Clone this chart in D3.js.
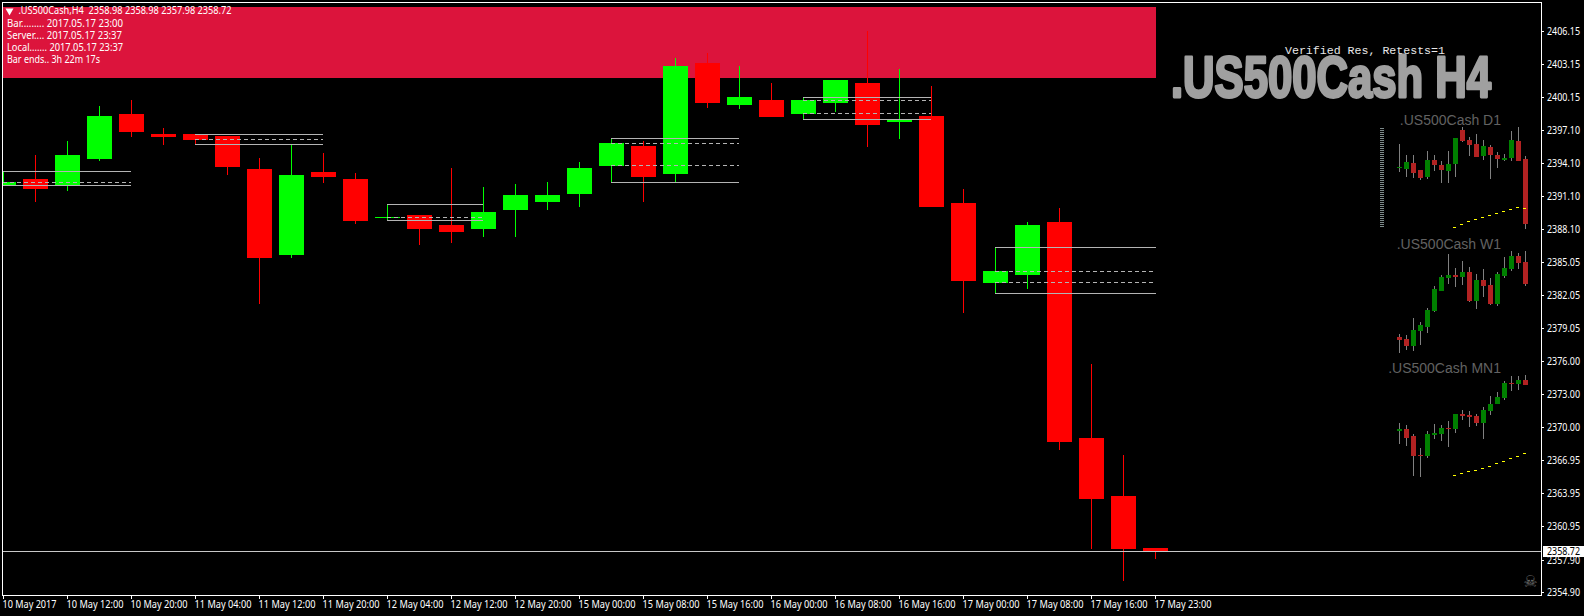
<!DOCTYPE html>
<html>
<head>
<meta charset="utf-8">
<script src="https://cdn.jsdelivr.net/npm/d3@7/dist/d3.min.js"></script>
<style>
html,body{margin:0;padding:0;background:#000;overflow:hidden}
svg{display:block}
text{font-family:"Noto Sans","DejaVu Sans",sans-serif}
.axis text{fill:#fff;font-size:10px}
.axis line{stroke:#fff}
.axis path{display:none}
</style>
</head>
<body>
<div id="chart"></div>
<script>
// ---- main H4 series ----
const h4Open  = [2392.10,2392.68,2392.13,2394.51,2398.62,2396.79,2396.79,2396.61,2393.59,2385.74,2393.32,2392.68,2389.15,2389.39,2388.48,2388.11,2389.85,2390.58,2391.31,2393.87,2395.69,2393.14,2403.27,2399.44,2399.90,2398.62,2399.62,2401.45,2397.89,2398.43,2390.49,2383.18,2383.91,2388.75,2369.03,2363.73,2358.98];
const h4High  = [2393.38,2394.87,2396.15,2399.35,2399.90,2397.34,2396.79,2396.61,2394.60,2395.79,2395.05,2393.23,2390.37,2389.39,2393.69,2391.95,2392.22,2392.41,2394.23,2396.40,2396.15,2403.73,2404.21,2403.00,2401.45,2400.14,2401.72,2406.20,2402.73,2401.17,2391.77,2386.44,2388.75,2390.03,2375.79,2367.48,2358.98];
const h4Low   = [2392.10,2390.61,2391.59,2394.32,2396.52,2395.79,2395.88,2393.05,2381.27,2385.47,2392.32,2388.57,2388.91,2386.65,2386.84,2387.38,2387.38,2389.85,2390.12,2392.38,2390.58,2392.38,2399.16,2399.07,2398.34,2398.10,2398.80,2395.60,2396.33,2390.12,2380.44,2382.24,2382.64,2367.93,2358.89,2355.97,2357.98];
const h4Close = [2392.41,2391.77,2394.87,2398.43,2396.97,2396.52,2396.27,2393.78,2385.47,2393.05,2392.86,2388.85,2389.20,2388.11,2387.84,2389.67,2391.22,2391.22,2393.69,2395.97,2392.86,2403.00,2399.62,2400.17,2398.34,2399.90,2401.72,2397.61,2398.10,2390.12,2383.37,2384.28,2388.48,2368.66,2363.46,2358.89,2358.72];
const timeLabels = ["10 May 2017","10 May 12:00","10 May 20:00","11 May 04:00","11 May 12:00","11 May 20:00","12 May 04:00","12 May 12:00","12 May 20:00","15 May 00:00","15 May 08:00","15 May 16:00","16 May 00:00","16 May 08:00","16 May 16:00","17 May 00:00","17 May 08:00","17 May 16:00","17 May 23:00"];
const priceTicks = [2406.15,2403.15,2400.15,2397.10,2394.10,2391.10,2388.10,2385.05,2382.05,2379.05,2376.00,2373.00,2370.00,2366.95,2363.95,2360.95,2357.90,2354.90];
const lastPrice = 2358.72;

// ---- support / resistance boxes: first bar, last bar, top, bottom, dashed levels ----
const boxStart = [0,6,12,19,25,31];
const boxEnd   = [4,10,15,23,29,36];
const boxTop   = [2393.38,2396.76,2390.37,2396.40,2400.14,2386.44];
const boxBot   = [2392.10,2395.85,2388.91,2392.38,2398.13,2382.24];
const boxDash  = [[2392.38],[2396.31],[2389.18],[2395.94,2393.93],[2399.87,2398.68],[2384.25,2383.25]];
const zoneTop = 2408.38, zoneBottom = 2401.90;

// ---- small higher-timeframe panels (relative points, no axis in the picture) ----
const d1Open  = [186,183,201,180,159,210,195,177,198,300,270,258,222,249,225,210,216,267,213];
const d1High  = [258,225,225,180,237,225,206,237,276,309,279,288,270,255,234,228,297,309,222];
const d1Low   = [174,159,156,150,153,177,142,141,159,264,222,219,210,153,186,207,207,207,3];
const d1Close = [189,204,171,156,210,195,180,198,276,267,255,219,252,225,213,216,270,207,18];
const d1Ma    = [8,17,26,32,38,44,50,56,62,68,65];
const w1Open  = [49,43,22,67,79,127,187,226,235,229,244,157,220,205,148,232,253,292,274];
const w1High  = [58,55,106,94,136,202,235,298,256,277,259,238,253,226,244,289,307,301,307];
const w1Low   = [1,10,7,25,61,124,187,208,199,205,154,133,169,145,142,226,247,253,202];
const w1Close = [40,22,70,85,130,193,229,235,229,244,157,220,202,148,238,256,292,271,208];
const mnOpen  = [157,163,142,85,82,145,148,166,163,208,205,202,181,217,238,256,301,298,310];
const mnHigh  = [181,175,148,106,157,178,175,187,208,220,217,208,229,262,274,307,322,322,325];
const mnLow   = [118,112,22,19,76,133,127,109,151,190,169,172,133,205,238,250,277,280,295];
const mnClose = [163,136,82,82,148,151,166,163,208,202,199,181,220,238,259,301,299,310,295];
const mnMa    = [24,29,35,39,45,51,59,66,75,81,90];
const maFirstBar = 8;

const headerLines = [
  {t:".US500Cash,H4  2358.98 2358.98 2357.98 2358.72", x:18.5, y:14, w:213},
  {t:"Bar......... 2017.05.17 23:00", x:7, y:26.5, w:116},
  {t:"Server.... 2017.05.17 23:37", x:7, y:38.5, w:115},
  {t:"Local....... 2017.05.17 23:37", x:7, y:50.5, w:116},
  {t:"Bar ends.. 3h 22m 17s", x:7, y:62.5, w:93}
];

const W = 1584, H = 616;
const svg = d3.select("#chart").append("svg").attr("width",W).attr("height",H);
const x = d3.scaleLinear().domain([0,36]).range([3.5,1155.5]);
const y = d3.scaleLinear().domain([2406.15,2354.90]).range([31.5,592.7]);
const snap = v => Math.round(v-0.3)+0.5;
const plot = {l:2, t:2, r:1541, b:595};

svg.append("defs").append("clipPath").attr("id","pc").append("rect")
  .attr("x",plot.l+1).attr("y",plot.t+1).attr("width",plot.r-plot.l-1).attr("height",plot.b-plot.t-1);
const g = svg.append("g").attr("clip-path","url(#pc)");

// supply zone
g.append("rect").attr("x",plot.l+1).attr("width",x(36)-plot.l-1)
  .attr("y",y(zoneTop)).attr("height",y(zoneBottom)-y(zoneTop))
  .attr("fill","#dc143c").attr("shape-rendering","crispEdges");

// main candles
const candles = d3.range(h4Open.length).map(i=>({i,o:h4Open[i],h:h4High[i],l:h4Low[i],c:h4Close[i]}));
const cg = g.append("g").attr("shape-rendering","crispEdges");
const col = d => d.c>=d.o ? "#00ff00" : "#ff0000";
cg.selectAll("line").data(candles).join("line")
  .attr("x1",d=>x(d.i)).attr("x2",d=>x(d.i))
  .attr("y1",d=>y(d.h)).attr("y2",d=>y(d.l)).attr("stroke",col);
cg.selectAll("rect").data(candles).join("rect")
  .attr("x",d=>x(d.i)-12.5).attr("width",25)
  .attr("y",d=>Math.round(y(Math.max(d.o,d.c))))
  .attr("height",d=>Math.max(1,Math.round(y(Math.min(d.o,d.c)))-Math.round(y(Math.max(d.o,d.c)))))
  .attr("fill",col);

// boxes
const boxes = boxStart.map((s,k)=>({s,e:boxEnd[k],t:boxTop[k],b:boxBot[k],dash:boxDash[k]}));
const bg = g.append("g").attr("shape-rendering","crispEdges");
boxes.forEach(b=>{
  const x1=x(b.s)-0.5, x2=(b.s===31)?x(b.e):x(b.e)-0.5;
  [b.t,b.b].forEach(v=>bg.append("line").attr("x1",x1).attr("x2",x2)
     .attr("y1",snap(y(v))).attr("y2",snap(y(v))).attr("stroke","#b4b4b4"));
  b.dash.forEach(v=>bg.append("line").attr("x1",x1).attr("x2",x2)
     .attr("y1",snap(y(v))).attr("y2",snap(y(v))).attr("stroke","#b4b4b4").attr("stroke-dasharray","4,3"));
});

// last price line
g.append("line").attr("x1",plot.l).attr("x2",plot.r)
  .attr("y1",snap(y(lastPrice))).attr("y2",snap(y(lastPrice)))
  .attr("stroke","#c8c8c8").attr("shape-rendering","crispEdges");

// mini panels
const mx = d3.scaleLinear().domain([0,18]).range([1399.5,1525.5]);
const panels = [
 {name:".US500Cash D1", base:125, o:d1Open,h:d1High,l:d1Low,c:d1Close,ma:d1Ma,
  sy:d3.scaleLinear().domain([0,330]).range([230,120])},
 {name:".US500Cash W1", base:249, o:w1Open,h:w1High,l:w1Low,c:w1Close,
  sy:d3.scaleLinear().domain([0,370]).range([230+370/3,230])},
 {name:".US500Cash MN1", base:373, o:mnOpen,h:mnHigh,l:mnLow,c:mnClose,ma:mnMa,
  sy:d3.scaleLinear().domain([0,330]).range([230+760/3,230+430/3])}
];
panels.forEach(p=>{
  const pg = svg.append("g").attr("shape-rendering","crispEdges");
  const rows = p.o.map((o,i)=>({i,o,h:p.h[i],l:p.l[i],c:p.c[i]}));
  pg.selectAll("line.w").data(rows).join("line").attr("class","w")
    .attr("x1",d=>mx(d.i)).attr("x2",d=>mx(d.i)).attr("y1",d=>p.sy(d.h)).attr("y2",d=>p.sy(d.l))
    .attr("stroke","#808080");
  pg.selectAll("rect").data(rows).join("rect")
    .attr("x",d=>mx(d.i)-2.5).attr("width",5)
    .attr("y",d=>Math.round(p.sy(Math.max(d.o,d.c))))
    .attr("height",d=>Math.max(1,Math.round(p.sy(Math.min(d.o,d.c)))-Math.round(p.sy(Math.max(d.o,d.c)))))
    .attr("fill",d=>d.c>=d.o?"#008000":"#b22222");
  if(p.ma) pg.selectAll("line.m").data(p.ma).join("line").attr("class","m")
    .attr("x1",(d,i)=>mx(maFirstBar+i)-2.5).attr("x2",(d,i)=>mx(maFirstBar+i)+0.5)
    .attr("y1",d=>Math.floor(p.sy(d))+0.5).attr("y2",d=>Math.floor(p.sy(d))+0.5)
    .attr("stroke","#ffff00");
  svg.append("text").attr("x",1501).attr("y",p.base).attr("text-anchor","end")
    .style("font-family","'Liberation Sans',Arial,sans-serif").style("font-size","14px")
    .attr("fill","#626262").text(p.name);
});

// gray ladder
const ladderRows = d3.range(50);
const ly = d3.scaleLinear().domain([0,49]).range([128.5,226.5]);
svg.append("g").attr("shape-rendering","crispEdges").selectAll("line").data(ladderRows).join("line")
  .attr("x1",1380).attr("x2",1384).attr("y1",d=>ly(d)).attr("y2",d=>ly(d)).attr("stroke","#7d8a8a");

// big title: scaled horizontally to its measured width so the text box stays true
const bigTitle = svg.append("text")
  .style("font-family","'Liberation Sans Narrow','Liberation Sans',sans-serif")
  .style("font-weight","700").style("font-size","57px")
  .attr("fill","#a0a0a0").attr("stroke","#a0a0a0").attr("stroke-width",3).attr("stroke-linejoin","round")
  .text(".US500Cash H4");
const bigLen = bigTitle.node().getComputedTextLength();
bigTitle.attr("transform",`translate(1171,97) scale(${320/bigLen},1)`);
svg.append("text").attr("x",1285).attr("y",54).attr("textLength",160).attr("lengthAdjust","spacingAndGlyphs")
  .style("font-family","'Liberation Mono','DejaVu Sans Mono',monospace").style("font-size","11.6px")
  .attr("fill","#e8e8e8").text("Verified Res, Retests=1");

// frame
svg.append("rect").attr("x",plot.l+0.5).attr("y",plot.t+0.5)
  .attr("width",plot.r-plot.l).attr("height",plot.b-plot.t)
  .attr("fill","none").attr("stroke","#fff").attr("shape-rendering","crispEdges");

// y axis
const ya = svg.append("g").attr("class","axis").attr("transform",`translate(${plot.r},0)`)
  .call(d3.axisRight(y).tickValues(priceTicks).tickFormat(d3.format(".2f")).tickSize(3).tickPadding(3));
ya.selectAll(".tick").attr("transform",d=>`translate(0,${snap(y(d))})`);
ya.selectAll(".tick line").attr("x1",0.5).attr("shape-rendering","crispEdges");
ya.selectAll(".tick text").attr("x",6).attr("dy",null).attr("y",3.5)
  .attr("textLength",33).attr("lengthAdjust","spacingAndGlyphs");

// x axis
const xa = svg.append("g").attr("class","axis").attr("transform",`translate(0,${plot.b})`)
  .call(d3.axisBottom(x).tickValues(timeLabels.map((d,i)=>i*2)).tickFormat(d=>timeLabels[d/2]).tickSize(4).tickPadding(3));
xa.selectAll(".tick").attr("transform",d=>`translate(${x(d)},0)`);
xa.selectAll(".tick line").attr("shape-rendering","crispEdges");
xa.selectAll(".tick text").attr("text-anchor","start").attr("x",-1).attr("dy",null).attr("y",12.7)
  .attr("textLength",(d,i)=>i===0?54:57).attr("lengthAdjust","spacingAndGlyphs");

// price label
const py = snap(y(lastPrice));
svg.append("rect").attr("x",1543).attr("y",py-5.5).attr("width",41).attr("height",11)
  .attr("fill","#fff").attr("shape-rendering","crispEdges");
svg.append("text").attr("x",1547).attr("y",py+3.5).attr("textLength",33).attr("lengthAdjust","spacingAndGlyphs")
  .style("font-size","10px").attr("fill","#000").text(d3.format(".2f")(lastPrice));

// skull
svg.append("text").attr("x",1530.5).attr("y",587).attr("text-anchor","middle")
  .style("font-family","'DejaVu Sans',sans-serif").style("font-size","16px").attr("fill","#6e6e6e").text("☠");

// header
svg.append("path").attr("d",d3.symbol(d3.symbolTriangle,28)()).attr("fill","#fff")
  .attr("transform","translate(9.5,10.8) rotate(180)");
svg.selectAll("text.h").data(headerLines).join("text").attr("class","h")
  .attr("x",d=>d.x).attr("y",d=>d.y).attr("textLength",d=>d.w).attr("lengthAdjust","spacingAndGlyphs")
  .style("font-size","10px").attr("fill","#fff").style("white-space","pre")
  .text(d=>d.t);
</script>
</body>
</html>
